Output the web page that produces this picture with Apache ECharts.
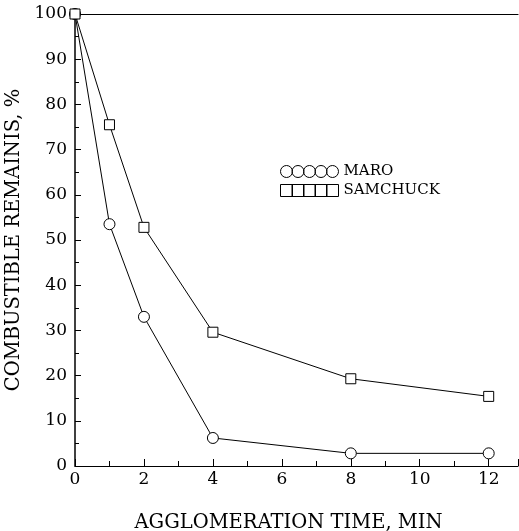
<!DOCTYPE html>
<html><head><meta charset="utf-8">
<script src="https://cdn.jsdelivr.net/npm/echarts@6/dist/echarts.min.js"></script>
<style>html,body{margin:0;padding:0;background:#fff}#c{width:519px;height:531px}</style>
</head><body><div id="c"></div>
<script>
const times = [0, 1, 2, 4, 8, 12];
const maro = [100, 53.5, 33, 6.2, 2.8, 2.8];
const samchuck = [100, 75.5, 52.8, 29.6, 19.3, 15.4];
const xTitle = 'AGGLOMERATION TIME, MIN';
const yTitle = 'COMBUSTIBLE REMAINIS, %';
const font = '"DejaVu Serif", "Liberation Serif", serif';

const circles = 'path://M0,6a6,6 0 1,0 12,0a6,6 0 1,0 -12,0M11.5,6a6,6 0 1,0 12,0a6,6 0 1,0 -12,0M23,6a6,6 0 1,0 12,0a6,6 0 1,0 -12,0M34.5,6a6,6 0 1,0 12,0a6,6 0 1,0 -12,0M46,6a6,6 0 1,0 12,0a6,6 0 1,0 -12,0';
const squares = 'path://M0,0h12v12h-12zM11.5,0h12v12h-12zM23,0h12v12h-12zM34.5,0h12v12h-12zM46,0h12v12h-12z';

const chart = echarts.init(document.getElementById('c'));
chart.setOption({
  animation: false,
  backgroundColor: '#fff',
  textStyle: { fontFamily: font, color: '#000' },
  grid: { left: 75, right: 1, top: 14, bottom: 65, outerBoundsMode: 'none', containLabel: false },
  legend: {
    left: 273, top: 158, orient: 'vertical', itemGap: 2,
    itemWidth: 58, itemHeight: 12,
    textStyle: { fontFamily: font, fontSize: 15, color: '#000' },
    data: [
      { name: 'MARO', icon: circles, itemStyle: { color: 'none', borderColor: '#000', borderWidth: 1 } },
      { name: 'SAMCHUCK', icon: squares, itemStyle: { color: 'none', borderColor: '#000', borderWidth: 1 } }
    ]
  },
  xAxis: [{
    type: 'value', min: 0, max: 12.85, interval: 2,
    name: xTitle, nameLocation: 'middle', nameGap: 47,
    nameTextStyle: { fontFamily: font, fontSize: 19.5, color: '#000', padding: [0, 16, 0, 0] },
    axisLine: { lineStyle: { color: '#000', width: 1.2 } },
    axisTick: { inside: true, length: 7, lineStyle: { color: '#000' } },
    minorTick: { show: true, splitNumber: 2, length: 5, lineStyle: { color: '#000' } },
    axisLabel: { fontFamily: font, fontSize: 17, color: '#000', margin: 5, showMaxLabel: false },
    splitLine: { show: false }
  }, {
    type: 'value', position: 'top', min: 0, max: 12.85,
    axisLine: { show: true, lineStyle: { color: '#000', width: 1.2 } },
    axisTick: { show: false }, axisLabel: { show: false }, splitLine: { show: false }
  }],
  yAxis: {
    type: 'value', min: 0, max: 100, interval: 10,
    name: yTitle, nameLocation: 'middle', nameGap: 47, nameRotate: 90,
    nameTextStyle: { fontFamily: font, fontSize: 19.5, color: '#000' },
    axisLine: { show: true, lineStyle: { color: '#000', width: 1.5 } },
    axisTick: { inside: true, length: 6, lineStyle: { color: '#000' } },
    minorTick: { show: true, splitNumber: 2, length: 4, lineStyle: { color: '#000' } },
    axisLabel: { fontFamily: font, fontSize: 17, color: '#000', margin: 8 },
    splitLine: { show: false }
  },
  series: [{
    name: 'MARO', type: 'line', data: times.map((t, i) => [t, maro[i]]),
    symbol: 'circle', symbolSize: 11,
    lineStyle: { color: '#000', width: 1 },
    itemStyle: { color: '#fff', borderColor: '#000', borderWidth: 1 }
  }, {
    name: 'SAMCHUCK', type: 'line', data: times.map((t, i) => [t, samchuck[i]]),
    symbol: 'rect', symbolSize: 10,
    lineStyle: { color: '#000', width: 1 },
    itemStyle: { color: '#fff', borderColor: '#000', borderWidth: 1 }
  }]
});
</script></body></html>
